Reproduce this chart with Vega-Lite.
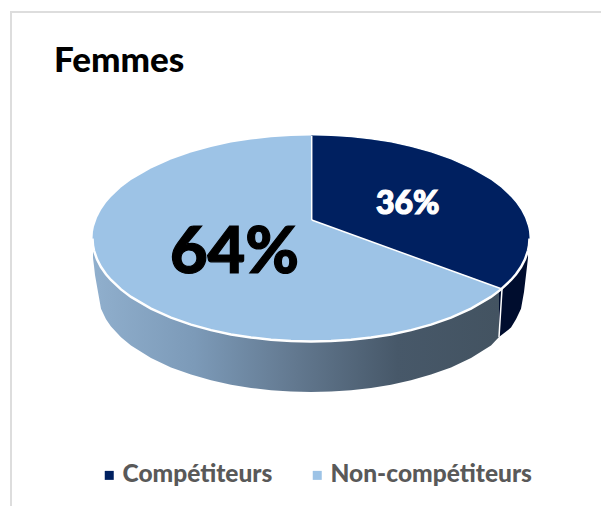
{
"$schema":"https://vega.github.io/schema/vega-lite/v6.json",
"width":601,"height":506,"padding":0,"autosize":{"type":"none"},"background":"white",
"title":{"text":"Femmes","anchor":"start","frame":"group","orient":"top","offset":0,"dx":54,"dy":107,"baseline":"alphabetic","font":"Lato","fontWeight":900,"fontSize":35,"color":"#000000"},
"config":{"view":{"stroke":null}},
"datasets":{
"frame":[{"sx":11,"sy":12,"ex":11,"ey":506},{"sx":10,"sy":12,"ex":601,"ey":12}],
"wallLight":[{"sx":93,"sy":238.5,"ey":258},{"sx":94,"sy":250.6,"ey":266},{"sx":95,"sy":254,"ey":275},{"sx":98,"sy":262,"ey":292},{"sx":101,"sy":267,"ey":308.7},{"sx":106,"sy":274.2,"ey":319.2},{"sx":111,"sy":280,"ey":326.4},{"sx":121,"sy":289.4,"ey":337.2},{"sx":131,"sy":296.9,"ey":345.5},{"sx":151,"sy":308.6,"ey":358},{"sx":171,"sy":317.6,"ey":367.4},{"sx":191,"sy":324.6,"ey":374.6},{"sx":211,"sy":330.1,"ey":380.3},{"sx":231,"sy":334.4,"ey":384.7},{"sx":251,"sy":337.5,"ey":387.9},{"sx":271,"sy":339.8,"ey":390.2},{"sx":291,"sy":341.1,"ey":391.6},{"sx":311,"sy":341.5,"ey":392},{"sx":331,"sy":341.1,"ey":391.6},{"sx":351,"sy":339.8,"ey":390.2},{"sx":371,"sy":337.5,"ey":387.9},{"sx":391,"sy":334.4,"ey":384.7},{"sx":411,"sy":330.1,"ey":380.3},{"sx":431,"sy":324.6,"ey":374.6},{"sx":451,"sy":317.6,"ey":367.4},{"sx":471,"sy":308.6,"ey":358},{"sx":491,"sy":296.9,"ey":345.5},{"sx":499,"sy":291,"ey":337}],
"wallDark":[{"sx":499,"sy":291,"ey":337},{"sx":511,"sy":280,"ey":327.6},{"sx":516,"sy":274.2,"ey":319.2},{"sx":521,"sy":267,"ey":308.7},{"sx":524,"sy":262,"ey":292},{"sx":526,"sy":257,"ey":275},{"sx":528,"sy":250.6,"ey":258}],
"light":[{"segment":"Non-compétiteurs","sx":92.5,"sy":238.5,"ey":238.5},{"segment":"Non-compétiteurs","sx":93,"sy":231.5,"ey":245.5},{"segment":"Non-compétiteurs","sx":94,"sy":226.4,"ey":250.6},{"segment":"Non-compétiteurs","sx":97,"sy":217.7,"ey":259.3},{"segment":"Non-compétiteurs","sx":101,"sy":210,"ey":267},{"segment":"Non-compétiteurs","sx":106,"sy":202.8,"ey":274.2},{"segment":"Non-compétiteurs","sx":111,"sy":197,"ey":280},{"segment":"Non-compétiteurs","sx":121,"sy":187.6,"ey":289.4},{"segment":"Non-compétiteurs","sx":131,"sy":180.1,"ey":296.9},{"segment":"Non-compétiteurs","sx":151,"sy":168.4,"ey":308.6},{"segment":"Non-compétiteurs","sx":171,"sy":159.4,"ey":317.6},{"segment":"Non-compétiteurs","sx":191,"sy":152.4,"ey":324.6},{"segment":"Non-compétiteurs","sx":211,"sy":146.9,"ey":330.1},{"segment":"Non-compétiteurs","sx":231,"sy":142.6,"ey":334.4},{"segment":"Non-compétiteurs","sx":251,"sy":139.5,"ey":337.5},{"segment":"Non-compétiteurs","sx":271,"sy":137.2,"ey":339.8},{"segment":"Non-compétiteurs","sx":291,"sy":135.9,"ey":341.1},{"segment":"Non-compétiteurs","sx":311,"sy":135.5,"ey":341.5},{"segment":"Non-compétiteurs","sx":331,"sy":135.9,"ey":341.1},{"segment":"Non-compétiteurs","sx":351,"sy":137.2,"ey":339.8},{"segment":"Non-compétiteurs","sx":371,"sy":139.5,"ey":337.5},{"segment":"Non-compétiteurs","sx":391,"sy":142.6,"ey":334.4},{"segment":"Non-compétiteurs","sx":411,"sy":146.9,"ey":330.1},{"segment":"Non-compétiteurs","sx":431,"sy":152.4,"ey":324.6},{"segment":"Non-compétiteurs","sx":451,"sy":159.4,"ey":317.6},{"segment":"Non-compétiteurs","sx":471,"sy":168.4,"ey":308.6},{"segment":"Non-compétiteurs","sx":491,"sy":180.1,"ey":296.9},{"segment":"Non-compétiteurs","sx":501,"sy":187.6,"ey":289.4},{"segment":"Non-compétiteurs","sx":511,"sy":197,"ey":280},{"segment":"Non-compétiteurs","sx":516,"sy":202.8,"ey":274.2},{"segment":"Non-compétiteurs","sx":521,"sy":210,"ey":267},{"segment":"Non-compétiteurs","sx":525,"sy":217.7,"ey":259.3},{"segment":"Non-compétiteurs","sx":528,"sy":226.4,"ey":250.6},{"segment":"Non-compétiteurs","sx":529,"sy":231.5,"ey":245.5},{"segment":"Non-compétiteurs","sx":529.5,"sy":238.5,"ey":238.5}],
"dark":[{"segment":"Compétiteurs","sx":311.5,"sy":135.5,"ey":220},{"segment":"Compétiteurs","sx":331,"sy":135.9,"ey":227},{"segment":"Compétiteurs","sx":351,"sy":137.2,"ey":234.3},{"segment":"Compétiteurs","sx":371,"sy":139.5,"ey":241.5},{"segment":"Compétiteurs","sx":391,"sy":142.6,"ey":248.7},{"segment":"Compétiteurs","sx":411,"sy":146.9,"ey":256},{"segment":"Compétiteurs","sx":431,"sy":152.4,"ey":263.2},{"segment":"Compétiteurs","sx":451,"sy":159.4,"ey":270.4},{"segment":"Compétiteurs","sx":471,"sy":168.4,"ey":277.6},{"segment":"Compétiteurs","sx":491,"sy":180.1,"ey":284.9},{"segment":"Compétiteurs","sx":501,"sy":187.6,"ey":288.6},{"segment":"Compétiteurs","sx":511,"sy":197,"ey":280},{"segment":"Compétiteurs","sx":516,"sy":202.8,"ey":274.2},{"segment":"Compétiteurs","sx":521,"sy":210,"ey":267},{"segment":"Compétiteurs","sx":525,"sy":217.7,"ey":259.3},{"segment":"Compétiteurs","sx":528,"sy":226.4,"ey":250.6},{"segment":"Compétiteurs","sx":529,"sy":231.5,"ey":245.5},{"segment":"Compétiteurs","sx":529.5,"sy":238.5,"ey":238.5}],
"arc":[{"sx":92.5,"sy":238.5},{"sx":93,"sy":245.5},{"sx":94,"sy":250.6},{"sx":97,"sy":259.3},{"sx":101,"sy":267},{"sx":106,"sy":274.2},{"sx":111,"sy":280},{"sx":121,"sy":289.4},{"sx":131,"sy":296.9},{"sx":151,"sy":308.6},{"sx":171,"sy":317.6},{"sx":191,"sy":324.6},{"sx":211,"sy":330.1},{"sx":231,"sy":334.4},{"sx":251,"sy":337.5},{"sx":271,"sy":339.8},{"sx":291,"sy":341.1},{"sx":311,"sy":341.5},{"sx":331,"sy":341.1},{"sx":351,"sy":339.8},{"sx":371,"sy":337.5},{"sx":391,"sy":334.4},{"sx":411,"sy":330.1},{"sx":431,"sy":324.6},{"sx":451,"sy":317.6},{"sx":471,"sy":308.6},{"sx":491,"sy":296.9},{"sx":501,"sy":289.4},{"sx":511,"sy":280},{"sx":516,"sy":274.2},{"sx":521,"sy":267},{"sx":525,"sy":259.3},{"sx":528,"sy":250.6},{"sx":529,"sy":245.5},{"sx":529.5,"sy":238.5}],
"seams":[{"sx":311.7,"sy":136,"ex":311.7,"ey":220},{"sx":311.7,"sy":220,"ex":502,"ey":289},{"sx":502,"sy":289,"ex":499,"ey":337}],
"labels":[{"segment":"Compétiteurs","share":"36%","sx":407.7,"sy":214.3},{"segment":"Non-compétiteurs","share":"64%","sx":234.5,"sy":273}]
},
"layer":[
{"data":{"name":"frame"},"mark":{"type":"rule","color":"#DDDDDD","strokeWidth":2},
 "encoding":{"x":{"field":"sx","type":"quantitative","scale":{"domain":[0,601],"nice":false,"zero":false},"axis":null},"y":{"field":"sy","type":"quantitative","scale":{"domain":[506,0],"nice":false,"zero":false},"axis":null},"x2":{"field":"ex"},"y2":{"field":"ey"}}},
{"data":{"name":"wallLight"},"mark":{"type":"area","color":{"gradient":"linear","x1":0,"x2":1,"y1":0,"y2":0,"stops":[{"offset":0,"color":"#90AFCD"},{"offset":0.25,"color":"#7C9AB8"},{"offset":0.5,"color":"#62788F"},{"offset":0.75,"color":"#475869"},{"offset":1,"color":"#435361"}]}},
 "encoding":{"x":{"field":"sx","type":"quantitative","scale":{"domain":[0,601],"nice":false,"zero":false},"axis":null},"y":{"field":"sy","type":"quantitative","scale":{"domain":[506,0],"nice":false,"zero":false},"axis":null},"y2":{"field":"ey"}}},
{"data":{"name":"wallDark"},"mark":{"type":"area","color":"#000D2E"},
 "encoding":{"x":{"field":"sx","type":"quantitative","scale":{"domain":[0,601],"nice":false,"zero":false},"axis":null},"y":{"field":"sy","type":"quantitative","scale":{"domain":[506,0],"nice":false,"zero":false},"axis":null},"y2":{"field":"ey"}}},
{"data":{"name":"light"},"mark":{"type":"area"},
 "encoding":{"x":{"field":"sx","type":"quantitative","scale":{"domain":[0,601],"nice":false,"zero":false},"axis":null},"y":{"field":"sy","type":"quantitative","scale":{"domain":[506,0],"nice":false,"zero":false},"axis":null},"y2":{"field":"ey"},
 "color":{"field":"segment","type":"nominal","scale":{"domain":["Compétiteurs","Non-compétiteurs"],"range":["#002060","#9DC3E6"]},
  "legend":{"title":null,"orient":"none","legendX":97,"legendY":463,"direction":"horizontal","columns":2,"symbolType":"square","symbolSize":81,"symbolStrokeWidth":0,"labelFont":"Lato","labelFontWeight":900,"labelFontSize":24.5,"labelColor":"#595959","labelLimit":300,"labelOffset":1,"columnPadding":32}}}},
{"data":{"name":"dark"},"mark":{"type":"area"},
 "encoding":{"x":{"field":"sx","type":"quantitative","scale":{"domain":[0,601],"nice":false,"zero":false},"axis":null},"y":{"field":"sy","type":"quantitative","scale":{"domain":[506,0],"nice":false,"zero":false},"axis":null},"y2":{"field":"ey"},
 "color":{"field":"segment","type":"nominal","scale":{"domain":["Compétiteurs","Non-compétiteurs"],"range":["#002060","#9DC3E6"]}}}},
{"data":{"name":"arc"},"mark":{"type":"line","color":"#FFFFFF","strokeWidth":2.5},
 "encoding":{"x":{"field":"sx","type":"quantitative","scale":{"domain":[0,601],"nice":false,"zero":false},"axis":null},"y":{"field":"sy","type":"quantitative","scale":{"domain":[506,0],"nice":false,"zero":false},"axis":null}}},
{"data":{"name":"seams"},"mark":{"type":"rule","color":"#FFFFFF","strokeWidth":1.5},
 "encoding":{"x":{"field":"sx","type":"quantitative","scale":{"domain":[0,601],"nice":false,"zero":false},"axis":null},"y":{"field":"sy","type":"quantitative","scale":{"domain":[506,0],"nice":false,"zero":false},"axis":null},"x2":{"field":"ex"},"y2":{"field":"ey"}}},
{"data":{"name":"labels"},"mark":{"type":"text","font":"Lato","fontWeight":900,"align":"center","baseline":"alphabetic","strokeWidth":1.2},
 "encoding":{"x":{"field":"sx","type":"quantitative","scale":{"domain":[0,601],"nice":false,"zero":false},"axis":null},"y":{"field":"sy","type":"quantitative","scale":{"domain":[506,0],"nice":false,"zero":false},"axis":null},"text":{"field":"share"},
 "size":{"field":"share","type":"nominal","scale":{"domain":["36%","64%"],"range":[32,65]},"legend":null},
 "stroke":{"field":"share","type":"nominal","scale":{"domain":["36%","64%"],"range":["#FFFFFF","#000000"]},"legend":null},
 "color":{"field":"share","type":"nominal","scale":{"domain":["36%","64%"],"range":["#FFFFFF","#000000"]},"legend":null}}}
],
"resolve":{"scale":{"color":"independent"}}
}
